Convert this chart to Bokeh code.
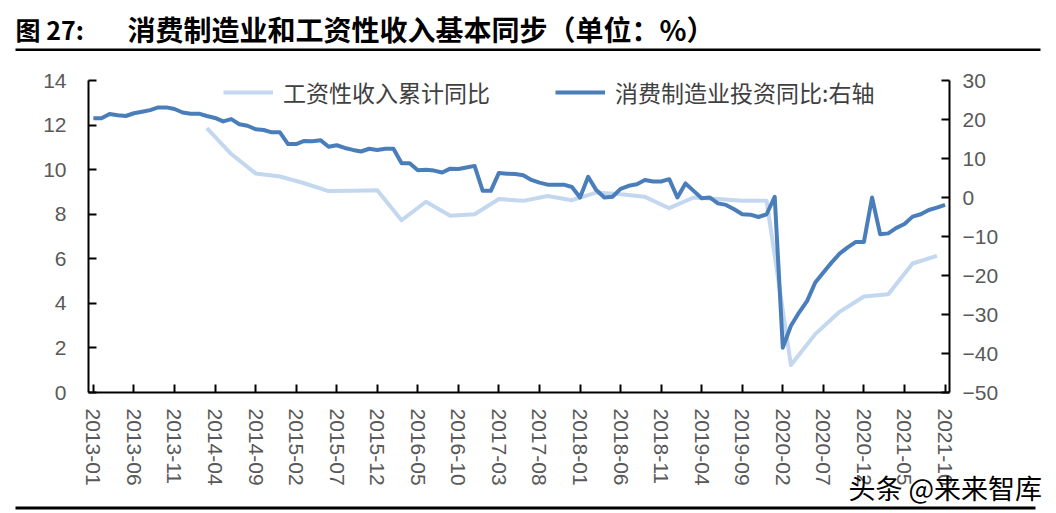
import pandas as pd
from bokeh.plotting import figure
from bokeh.models import (Range1d, LinearAxis, FixedTicker, Legend, LegendItem,
                          Label, BoxAnnotation)
from bokeh.embed import file_html
from bokeh.resources import INLINE

# ---------------- data ----------------
months = list(pd.period_range("2013-01", "2021-10", freq="M").strftime("%Y-%m"))

# 消费制造业投资同比 (right axis), monthly
invest_yoy = [
    20.3, 20.3, 21.4, 21.1, 20.9, 21.6, 22.0, 22.4, 23.1, 23.1,
    22.7, 21.8, 21.5, 21.5, 20.9, 20.4, 19.5, 20.1, 18.8, 18.4,
    17.5, 17.3, 16.7, 16.7, 13.7, 13.7, 14.5, 14.4, 14.7, 13.0,
    13.4, 12.7, 12.2, 11.8, 12.5, 12.2, 12.5, 12.5, 8.8, 8.8,
    7.0, 7.1, 6.9, 6.4, 7.4, 7.3, 7.7, 8.1, 1.7, 1.7,
    6.3, 6.1, 6.0, 5.7, 4.5, 3.8, 3.3, 3.3, 3.3, 2.7,
    0.0, 5.3, 1.9, 0.0, 0.2, 2.2, 3.0, 3.4, 4.5, 4.1,
    4.1, 4.7, 0.0, 3.6, 1.7, -0.2, 0.0, -1.5, -1.9, -3.0,
    -4.3, -4.4, -5.0, -4.3, 0.2, -38.5, -32.9, -29.5, -26.5, -21.8,
    -19.2, -16.7, -14.4, -12.8, -11.4, -11.4, 0.0, -9.4, -9.2, -7.8,
    -6.8, -4.9, -4.3, -3.2, -2.6, -1.9,
]

# 工资性收入累计同比 (left axis), quarterly
wage_months = [m for m in months if m >= "2014-03" and int(m[5:]) % 3 == 0]
wage_yoy = [
    11.86, 10.7, 9.83, 9.69, 9.39, 9.04, 9.05, 9.08, 7.73, 8.56,
    7.93, 8.0, 8.68, 8.6, 8.82, 8.63, 8.97, 8.9, 8.78, 8.27,
    8.75, 8.68, 8.6, 8.6, 1.23, 2.62, 3.62, 4.31, 4.41, 5.79,
    6.13,
]

left_ticks = [0, 2, 4, 6, 8, 10, 12, 14]
right_ticks = [-50, -40, -30, -20, -10, 0, 10, 20, 30]
tick_months = months[::5]

title_no = "图 27:"
title_text = "消费制造业和工资性收入基本同步（单位：%）"
wage_label = "工资性收入累计同比"
invest_label = "消费制造业投资同比:右轴"
watermark = "头条 @来来智库"

# ---------------- layout constants (canvas pixels) ----------------
W, H = 1056, 513
AL, AR, AT, AB = 88, 949, 80, 392        # plotting area edges
X0, X1 = -0.6, 105.55                    # category extent on the x axis
L0, L1 = left_ticks[0], left_ticks[-1]
R0, R1 = right_ticks[0], right_ticks[-1]

# ranges extended so the frame fills the whole canvas
xu = (X1 - X0) / (AR - AL)
lu = (L1 - L0) / (AB - AT)
ru = (R1 - R0) / (AB - AT)
x_range = Range1d(X0 - AL * xu, X1 + (W - AR) * xu)
y_range = Range1d(L0 - (H - AB) * lu, L1 + AT * lu)
r_range = Range1d(R0 - (H - AB) * ru, R1 + AT * ru)

pos = {m: i for i, m in enumerate(months)}
mx = [pos[m] for m in months]
wx = [pos[m] for m in wage_months]

p = figure(width=W, height=H, output_backend="svg", toolbar_location=None,
           x_range=x_range, y_range=y_range,
           min_border_left=0, min_border_right=0, min_border_top=0,
           min_border_bottom=0, outline_line_color=None,
           background_fill_color="white", border_fill_color="white")
p.xgrid.visible = False
p.ygrid.visible = False

p.extra_y_ranges = {"right": r_range}
rax = LinearAxis(y_range_name="right")
p.add_layout(rax, "right")

tick_font = "Liberation Sans"
for ax in [p.yaxis[0], rax, p.xaxis[0]]:
    ax.axis_line_color = "black"
    ax.axis_line_width = 2
    ax.major_tick_line_color = "black"
    ax.major_tick_line_width = 2
    ax.major_tick_in = 8
    ax.major_tick_out = 0
    ax.minor_tick_line_color = None
    ax.major_label_text_font = tick_font
    ax.major_label_text_font_size = "21px"
    ax.major_label_text_color = "#595959"

p.yaxis[0].ticker = FixedTicker(ticks=left_ticks)
p.yaxis[0].bounds = (L0, L1)
p.yaxis[0].fixed_location = X0
p.yaxis[0].major_label_standoff = 22

rax.ticker = FixedTicker(ticks=right_ticks)
rax.bounds = (R0, R1)
rax.fixed_location = X1
rax.major_label_standoff = 13

p.xaxis[0].ticker = FixedTicker(ticks=[pos[m] for m in tick_months])
p.xaxis[0].major_label_overrides = {pos[m]: m for m in tick_months}
p.xaxis[0].major_label_orientation = "vertical"
p.xaxis[0].major_label_standoff = 16
p.xaxis[0].bounds = (X0, X1)
p.xaxis[0].fixed_location = L0

r_w = p.line(wx, wage_yoy, line_color="#C3D7EF", line_width=4, line_join="round")
r_i = p.line(mx, invest_yoy, y_range_name="right", line_color="#4A7EBB",
             line_width=4, line_join="round")


def sx(x):  # canvas x -> screen x (frame == canvas)
    return x


def sy(y):  # canvas y from top -> screen y measured up from the bottom
    return H - y


legend = Legend(items=[LegendItem(label=wage_label, renderers=[r_w]),
                       LegendItem(label=invest_label, renderers=[r_i])],
                orientation="horizontal", location=(sx(223), sy(109)),
                glyph_width=50, glyph_height=28, label_height=28,
                label_standoff=10, spacing=65, padding=5, margin=0,
                border_line_color=None, background_fill_alpha=0,
                label_text_font="Noto Sans CJK SC", label_text_font_size="23px",
                label_text_color="#404040")
p.add_layout(legend)

p.add_layout(Label(x=sx(15), y=sy(28), x_units="screen", y_units="screen",
                   text=title_no, text_baseline="middle", text_font="Noto Sans CJK SC",
                   text_font_style="bold", text_font_size="25px", text_color="black"))
p.add_layout(Label(x=sx(127), y=sy(28), x_units="screen", y_units="screen",
                   text=title_text, text_baseline="middle", text_font="Noto Sans CJK SC",
                   text_font_style="bold", text_font_size="28px", text_color="black"))
p.add_layout(Label(x=sx(848), y=sy(487), x_units="screen", y_units="screen",
                   text=watermark, text_baseline="middle", text_font="Noto Sans CJK SC",
                   text_font_size="27px", text_color="black"))

p.add_layout(BoxAnnotation(left=sx(15), right=sx(1040), top=sy(48), bottom=sy(50.5),
                           left_units="screen", right_units="screen",
                           top_units="screen", bottom_units="screen",
                           fill_color="black", fill_alpha=1, line_color=None))
p.add_layout(BoxAnnotation(left=sx(15), right=sx(1035), top=sy(506), bottom=sy(509),
                           left_units="screen", right_units="screen",
                           top_units="screen", bottom_units="screen",
                           fill_color="black", fill_alpha=1, line_color=None))

open("out.html", "w").write(file_html(p, INLINE))
